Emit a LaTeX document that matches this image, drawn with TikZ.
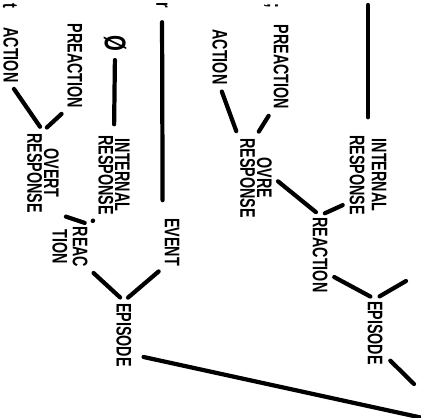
\documentclass[tikz,border=0pt]{standalone}
\usepackage{fontspec}
\setmainfont{Liberation Sans}
\newfontfamily\hand[FakeStretch=0.68]{Liberation Sans}
\usetikzlibrary{positioning}
\tikzset{
	word/.style  ={font=\hand\bfseries\fontsize{12}{9.5}\selectfont, rotate=-90, inner sep=1pt, align=center},
	stroke/.style={line width=2.4pt, line cap=round, shorten <=3pt, shorten >=3pt},
}
\begin{document}
\begin{tikzpicture}[x=0.02cm, y=-0.02cm]
	\useasboundingbox (0,0) rectangle (421,417);
	% left tree
	\node[word] (cutT) at (10,6) {t};
	\node[word] (cutR) at (162,5) {r};
	\node[word] (actL) at (11,55) {ACTION};
	\node[word] (preL) at (75,66) {PREACTION};
	\node[word, font=\hand\bfseries\fontsize{17}{17}\selectfont] (phi) at (115,43) {\O};
	\node[word] (overtL) at (43,173) {OVERT\\RESPONSE};
	\node[word] (intL) at (114,175) {INTERNAL\\RESPONSE};
	\node[word] (reacL) at (70,247) {REAC\\[2pt]TION};
	\node[word] (evL) at (172,242) {EVENT};
	\node[word] (epiL) at (124,335) {EPISODE};
	\coordinate (tailL) at (423,418);
	\draw[stroke] (actL.east) -- (overtL.west);
	\draw[stroke] (preL.south east) -- (overtL.west);
	\draw[stroke, shorten <=4pt, shorten >=5pt] (phi.east) -- (intL.west);
	\draw[stroke, shorten <=7pt, shorten >=9pt] (cutR.east) -- (evL.south west);
	\draw[stroke] (overtL.north east) -- (reacL.north west);
	\draw[stroke] (intL.south east) -- (reacL.north west);
	\draw[stroke] (reacL.north east) -- (epiL.west);
	\draw[stroke] (evL.south east) -- (epiL.west);
	\draw[stroke, shorten <=0pt, shorten >=0pt] ([shift={(10,-12)}]epiL.north east) -- (tailL);
	% right tree
	\node[word] (cutS) at (271,6) {;};
	\node[word] (actR) at (220,57) {ACTION};
	\node[word] (preR) at (281,67) {PREACTION};
	\node[word] (overR) at (256,178) {OVRE\\RESPONSE};
	\node[word] (intR) at (368,175) {INTERNAL\\[3pt]RESPONSE};
	\node[word] (reacR) at (320,255) {REACTION};
	\node[word] (epiR) at (375,333) {EPISODE};
	\coordinate (topR) at (368,5);
	\coordinate (offR) at (406,281);
	\coordinate (endR) at (414,384);
	\draw[stroke, shorten <=0pt, shorten >=9pt] (topR) -- (intR.west);
	\draw[stroke] (actR.east) -- (overR.south west);
	\draw[stroke] (preR.south east) -- (overR.west);
	\draw[stroke] (overR.north) -- (reacR.west);
	\draw[stroke] ([shift={(0,-14)}]intR.south east) -- (reacR.west);
	\draw[stroke] ([shift={(0,-20)}]reacR.north east) -- (epiR.west);
	\draw[stroke, shorten <=0pt] (offR) -- (epiR.west);
	\draw[stroke, shorten >=0pt] ([shift={(2,-10)}]epiR.north east) -- (endR);
\end{tikzpicture}
\end{document}
